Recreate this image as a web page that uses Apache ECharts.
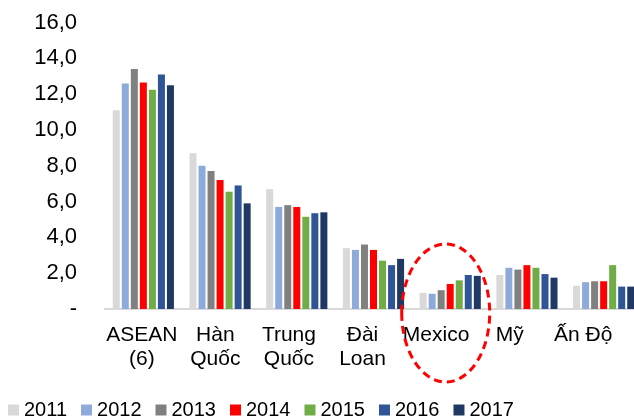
<!DOCTYPE html>
<html>
<head>
<meta charset="utf-8">
<script src="https://cdn.jsdelivr.net/npm/echarts@6/dist/echarts.min.js"></script>
<style>
html,body{margin:0;padding:0;background:#fff;overflow:hidden;}
#chart{width:660px;height:419px;}
</style>
</head>
<body>
<div id="chart"></div>
<script>
var categories = ['ASEAN\n(6)', 'Hàn\nQuốc', 'Trung\nQuốc', 'Đài\nLoan', 'Mexico', 'Mỹ', 'Ấn Độ'];
var years = ['2011', '2012', '2013', '2014', '2015', '2016', '2017'];
var v2011 = [11.1, 8.7, 6.7, 3.4, 0.9, 1.9, 1.3];
var v2012 = [12.6, 8.0, 5.7, 3.3, 0.85, 2.3, 1.5];
var v2013 = [13.4, 7.7, 5.8, 3.6, 1.05, 2.2, 1.55];
var v2014 = [12.65, 7.2, 5.7, 3.3, 1.4, 2.45, 1.55];
var v2015 = [12.25, 6.55, 5.15, 2.7, 1.6, 2.3, 2.45];
var v2016 = [13.1, 6.9, 5.35, 2.45, 1.9, 1.95, 1.25];
var v2017 = [12.5, 5.9, 5.4, 2.8, 1.85, 1.75, 1.25];
var yTickLabels = ['-', '2,0', '4,0', '6,0', '8,0', '10,0', '12,0', '14,0', '16,0'];

var colors = ['#d9d9d9', '#8eaadb', '#808080', '#ff0000', '#70ad47', '#2f5597', '#1f3864'];
var seriesValues = [v2011, v2012, v2013, v2014, v2015, v2016, v2017];
var FONT = '"Liberation Sans", Arial, sans-serif';

var chart = echarts.init(document.getElementById('chart'), null, {renderer: 'canvas'});

var series = years.map(function (y, i) {
  return {
    name: y,
    type: 'bar',
    xAxisIndex: 0,
    yAxisIndex: 0,
    data: seriesValues[i],
    barWidth: 7,
    barGap: '29%',
    itemStyle: {color: colors[i]},
    emphasis: {disabled: true}
  };
});

chart.setOption({
  animation: false,
  color: colors,
  textStyle: {fontFamily: FONT},
  grid: [
    {left: 105, top: 22.5, width: 537, height: 286.5},
    {left: 105, top: 22.5, width: 515, height: 286.5}
  ],
  xAxis: [
    {
      type: 'category', gridIndex: 0, data: categories,
      axisLine: {show: true, lineStyle: {color: '#d9d9d9', width: 2}},
      axisTick: {show: false},
      axisLabel: {show: false},
      splitLine: {show: false}
    },
    {
      type: 'category', gridIndex: 1, data: categories,
      axisLine: {show: false},
      axisTick: {show: false},
      axisLabel: {
        show: true, interval: 0, margin: 14,
        fontSize: 21, lineHeight: 24, color: '#000', fontFamily: FONT
      },
      splitLine: {show: false}
    }
  ],
  yAxis: [
    {
      type: 'value', gridIndex: 0, min: 0, max: 16, interval: 2,
      axisLine: {show: false},
      axisTick: {show: false},
      splitLine: {show: false},
      axisLabel: {
        margin: 28, fontSize: 22, color: '#000', fontFamily: FONT,
        formatter: function (v) { return yTickLabels[Math.round(v / 2)]; }
      }
    },
    {
      type: 'value', gridIndex: 1, min: 0, max: 16, show: false
    }
  ],
  legend: {
    data: years,
    left: 8,
    top: 400,
    padding: 0,
    icon: 'rect',
    itemWidth: 11,
    itemHeight: 11,
    itemGap: 14,
    selectedMode: false,
    textStyle: {fontSize: 20, color: '#000', fontFamily: FONT}
  },
  series: series
});

// Dashed red ellipse around the Mexico group
var mexIdx = categories.indexOf('Mexico');
var cx = chart.convertToPixel({xAxisIndex: 0}, mexIdx);
var cy = chart.convertToPixel({yAxisIndex: 0}, 0);
chart.setOption({
  graphic: [{
    type: 'ellipse',
    shape: {cx: cx - 4.5, cy: cy + 4, rx: 44, ry: 69},
    style: {fill: 'none', stroke: '#ff0000', lineWidth: 3, lineDash: [8, 5]},
    silent: true,
    z: 100
  }]
});
</script>
</body>
</html>
